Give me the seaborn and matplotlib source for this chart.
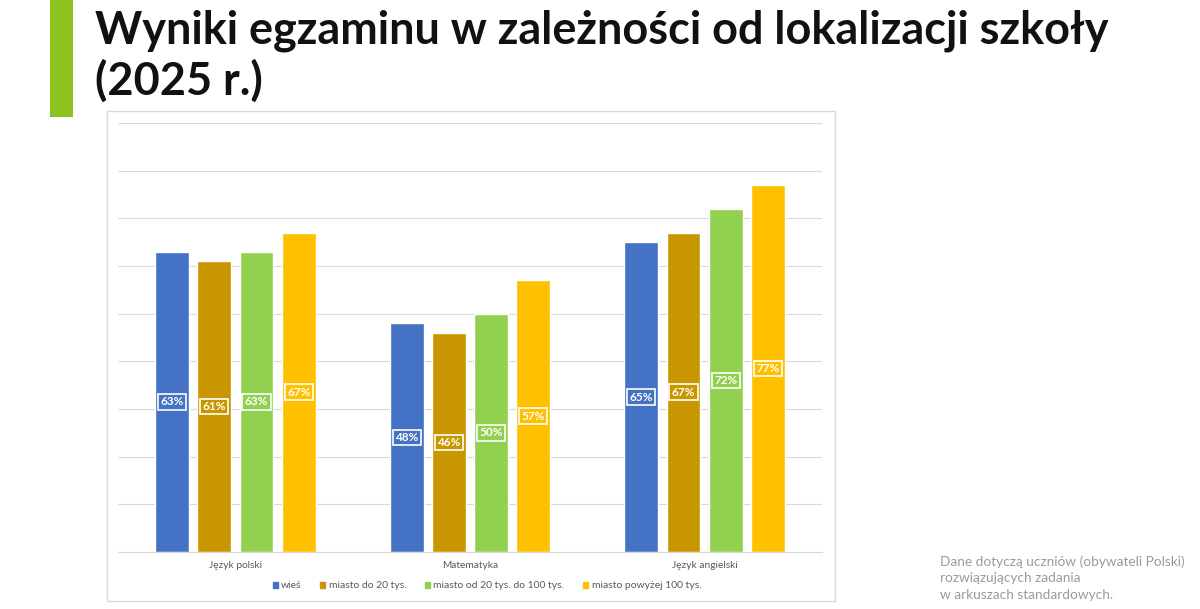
import matplotlib.pyplot as plt
import matplotlib.patches as mpatches
import seaborn as sns
import pandas as pd

subjects = ["Język polski", "Matematyka", "Język angielski"]
groups = ["wieś", "miasto do 20 tys.", "miasto od 20 tys. do 100 tys.", "miasto powyżej 100 tys."]
wies = [63, 48, 65]
miasto_20 = [61, 46, 67]
miasto_20_100 = [63, 50, 72]
miasto_100 = [67, 57, 77]

colors = ["#4472C4", "#C89700", "#92D050", "#FFC000"]

df = pd.DataFrame({
    "subject": subjects * 4,
    "group": [g for g in groups for _ in subjects],
    "value": wies + miasto_20 + miasto_20_100 + miasto_100,
})

sns.set_style("white")
plt.rcParams["font.family"] = ["Lato", "DejaVu Sans"]

fig = plt.figure(figsize=(12, 6.09), dpi=100)

# chart frame
fig.patches.append(mpatches.Rectangle((107 / 1200, 1 - 601 / 609), 728 / 1200, 490 / 609,
                                      transform=fig.transFigure, fill=False,
                                      edgecolor="#D9D9D9", linewidth=1))
# green accent bar
fig.patches.append(mpatches.Rectangle((50 / 1200, 1 - 117 / 609), 23 / 1200, 117 / 609,
                                      transform=fig.transFigure, color="#8DC21F", linewidth=0))

ax = fig.add_axes([118 / 1200, 1 - 552 / 609, 704 / 1200, 429 / 609])
sns.barplot(data=df, x="subject", y="value", hue="group", order=subjects,
            hue_order=groups, palette=colors, width=0.72, gap=0.2,
            saturation=1, ax=ax, legend=False)

ax.set_ylim(0, 90)
ax.set_yticks(range(0, 91, 10))
ax.yaxis.grid(True, color="#D9D9D9", linewidth=0.8)
ax.set_axisbelow(True)
ax.tick_params(axis="y", left=False, labelleft=False)
ax.tick_params(axis="x", bottom=False, labelsize=7.3, labelcolor="#595959", pad=3)
for s in ["top", "right", "left"]:
    ax.spines[s].set_visible(False)
ax.spines["bottom"].set_color("#D9D9D9")
ax.set_xlabel("")
ax.set_ylabel("")

for container, col in zip(ax.containers, colors):
    for bar in container:
        h = bar.get_height()
        ax.text(bar.get_x() + bar.get_width() / 2, h / 2, f"{h:.0f}%",
                ha="center", va="center", fontsize=8.5, fontweight="bold", color="white",
                bbox=dict(boxstyle="square,pad=0.2", facecolor=col, edgecolor="white", linewidth=1.2))

handles = [mpatches.Patch(color=c, label=g) for c, g in zip(colors, groups)]
fig.legend(handles=handles, loc="center", bbox_to_anchor=(487 / 1200, 1 - 586 / 609),
           ncol=4, frameon=False, fontsize=7.5, handlelength=0.5, handleheight=0.5,
           handletextpad=0.3, columnspacing=1.8, labelcolor="#595959")

fig.text(95 / 1200, 1 - 31 / 609, "Wyniki egzaminu w zależności od lokalizacji szkoły",
         fontsize=32.4, fontweight="bold", color="#111111", va="center", ha="left")
fig.text(95 / 1200, 1 - 81 / 609, "(2025 r.)",
         fontsize=32.4, fontweight="bold", color="#111111", va="center", ha="left")

fig.text(940 / 1200, 1 - 578 / 609,
         "Dane dotyczą uczniów (obywateli Polski)\nrozwiązujących zadania\nw arkuszach standardowych.",
         fontsize=9.8, color="#9A9A9A", va="center", ha="left", linespacing=1.45)

fig.savefig("out.png", dpi=100)
